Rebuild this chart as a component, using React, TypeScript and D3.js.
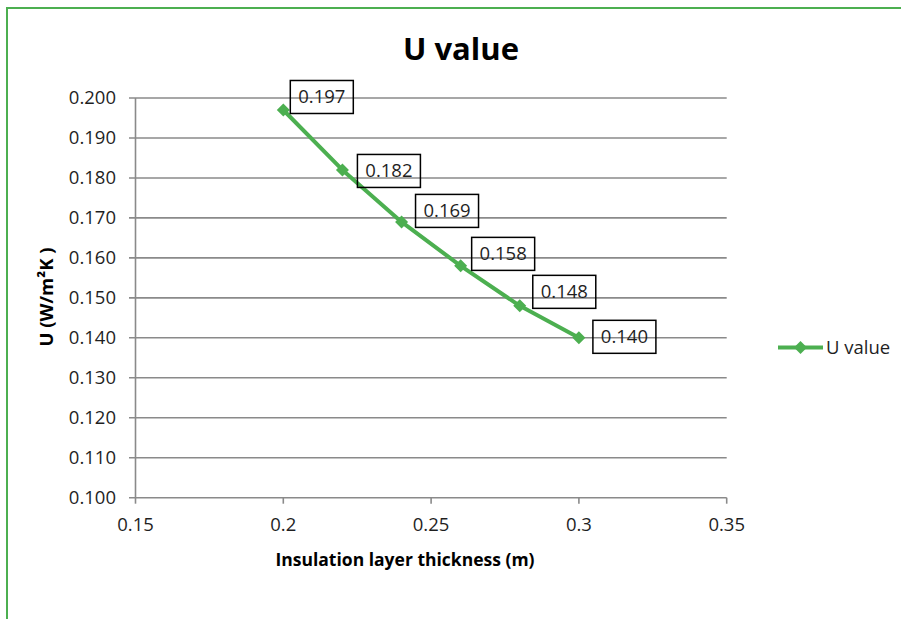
import React from "react";
import * as d3 from "d3";

// Insulation thickness (m) and resulting U value (W/m²K)
const thickness = [0.2, 0.22, 0.24, 0.26, 0.28, 0.3];
const uValues = [0.197, 0.182, 0.169, 0.158, 0.148, 0.14];
const xTicks = [0.15, 0.2, 0.25, 0.3, 0.35];
const yTicks = [0.1, 0.11, 0.12, 0.13, 0.14, 0.15, 0.16, 0.17, 0.18, 0.19, 0.2];
const seriesName = "U value";

// Label box nudges (px) relative to each point: box left edge and box centre
const labelDx = [7, 15, 14, 11, 13, 14];
const labelDy = [-13, 1, -11, -12, -14, -1];

const GREEN = "#4CAF50";
const GRID = "#8a8a8a";
const TEXT = "#1f1f1f";
const FONT = "'Open Sans', sans-serif";

export default function App() {
  const W = 901;
  const H = 619;
  const x = d3.scaleLinear().domain([0.15, 0.35]).range([135.5, 726.7]);
  const y = d3.scaleLinear().domain([0.1, 0.2]).range([497.7, 98]);

  const line = d3
    .line<number>()
    .x((_, i) => x(thickness[i]))
    .y((d) => y(d));

  const diamond = (cx: number, cy: number, r: number) =>
    `M${cx},${cy - r}L${cx + r},${cy}L${cx},${cy + r}L${cx - r},${cy}Z`;

  const fmtY = d3.format(".3f");
  const fmtX = (v: number) => String(+v.toFixed(2));

  const boxW = 63;
  const boxH = 33;

  return (
    <svg
      width={W}
      height={H}
      style={{ position: "absolute", left: 0, top: 0, background: "#fff" }}
      fontFamily={FONT}
    >
      {/* chart frame */}
      <rect x={7} y={8} width={1000} height={1000} fill="none" stroke={GREEN} strokeWidth={2} />

      {/* title */}
      <text x={461} y={60} textAnchor="middle" fontSize={31} fontWeight={700} fill="#000">
        U value
      </text>

      {/* horizontal gridlines + y ticks */}
      {yTicks.map((t) => (
        <g key={t}>
          <line x1={129} x2={726.7} y1={y(t)} y2={y(t)} stroke={GRID} strokeWidth={1.6} />
          <text x={116} y={y(t)} dy="0.35em" textAnchor="end" fontSize={18.5} fill={TEXT}>
            {fmtY(t)}
          </text>
        </g>
      ))}

      {/* y axis line */}
      <line x1={x(0.15)} x2={x(0.15)} y1={y(0.2)} y2={y(0.1)} stroke={GRID} strokeWidth={1.6} />

      {/* x ticks */}
      {xTicks.map((t) => (
        <g key={t}>
          <line x1={x(t)} x2={x(t)} y1={y(0.1)} y2={y(0.1) + 6} stroke={GRID} strokeWidth={1.6} />
          <text x={x(t)} y={531} textAnchor="middle" fontSize={18.5} fill={TEXT}>
            {fmtX(t)}
          </text>
        </g>
      ))}

      {/* axis titles */}
      <text x={405} y={566} textAnchor="middle" fontSize={17.5} fontWeight={700} fill="#000">
        Insulation layer thickness (m)
      </text>
      <text
        transform={`translate(53,297) rotate(-90)`}
        textAnchor="middle"
        fontSize={18.5}
        fontWeight={700}
        fill="#000"
      >
        U (W/m²K )
      </text>

      {/* series */}
      <path d={line(uValues) || ""} fill="none" stroke={GREEN} strokeWidth={4} strokeLinejoin="round" />
      {uValues.map((v, i) => (
        <path key={i} d={diamond(x(thickness[i]), y(v), 6.5)} fill={GREEN} />
      ))}

      {/* data labels */}
      {uValues.map((v, i) => {
        const bx = x(thickness[i]) + labelDx[i];
        const cy = y(v) + labelDy[i];
        return (
          <g key={i}>
            <rect x={bx} y={cy - boxH / 2} width={boxW} height={boxH} fill="none" stroke="#000" strokeWidth={1.5} />
            <text x={bx + boxW / 2} y={cy} dy="0.35em" textAnchor="middle" fontSize={18.5} fill={TEXT}>
              {fmtY(v)}
            </text>
          </g>
        );
      })}

      {/* legend */}
      <line x1={778} x2={823} y1={347.5} y2={347.5} stroke={GREEN} strokeWidth={4} />
      <path d={diamond(800.5, 347.5, 6.5)} fill={GREEN} />
      <text x={826} y={347.5} dy="0.35em" fontSize={18.5} fill={TEXT}>
        {seriesName}
      </text>
    </svg>
  );
}
